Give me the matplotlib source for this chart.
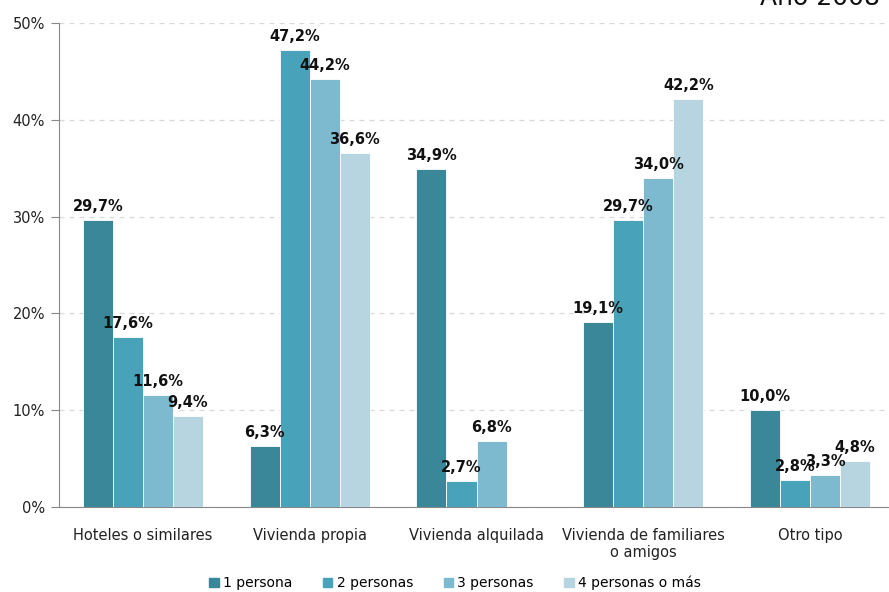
import matplotlib
matplotlib.use("Agg")
import matplotlib.pyplot as plt
import numpy as np

categories = ["Hoteles o similares", "Vivienda propia", "Vivienda alquilada",
              "Vivienda de familiares\no amigos", "Otro tipo"]
series_names = ["1 persona", "2 personas", "3 personas", "4 personas o más"]
s1 = [29.7, 6.3, 34.9, 19.1, 10.0]
s2 = [17.6, 47.2, 2.7, 29.7, 2.8]
s3 = [11.6, 44.2, 6.8, 34.0, 3.3]
s4 = [9.4, 36.6, None, 42.2, 4.8]
series = [s1, s2, s3, s4]
colors = ["#3A8799", "#48A2BA", "#7DB9CF", "#B6D5E1"]
yticks = [0, 10, 20, 30, 40, 50]

plt.rcParams['font.family'] = ['DejaVu Sans']
fig = plt.figure(figsize=(8.89, 5.92), dpi=100)
ax = fig.add_axes([59/889, 1-507/592, 1-59/889, (507-23)/592])

x = np.arange(len(categories))
w = 0.18
handles = []
for i, (vals, col, name) in enumerate(zip(series, colors, series_names)):
    offs = (i - 1.5) * w
    for j, v in enumerate(vals):
        if v is None:
            continue
        ax.bar(x[j] + offs, v, width=w, color=col, edgecolor="white", linewidth=0.6, zorder=3)
        ax.text(x[j] + offs, v + 0.6, f"{v:.1f}%".replace(".", ","), ha="center", va="bottom",
                fontsize=10.5, fontweight="bold", color="#111111", zorder=4)
    handles.append(plt.Rectangle((0, 0), 1, 1, color=col, label=name))

ax.set_xlim(-0.504, 4.474)
ax.set_ylim(0, 50)
ax.set_yticks(yticks)
ax.set_yticklabels([f"{t}%" for t in yticks], fontsize=10.5, color="#222222")
ax.set_xticks(x)
ax.set_xticklabels(categories, fontsize=10.5, color="#222222")
ax.tick_params(axis="x", length=0, pad=15)
ax.tick_params(axis="y", length=6, color="#888888", pad=4)
ax.grid(axis="y", linestyle=(0, (4, 4)), color="#D9D9D9", linewidth=0.9, zorder=0)
for s in ["top", "right"]:
    ax.spines[s].set_visible(False)
ax.spines["left"].set_color("#888888")
ax.spines["bottom"].set_color("#888888")

fig.legend(handles=handles, loc="center", bbox_to_anchor=(455/889, 1-583/592), ncol=4,
           frameon=False, fontsize=10, handlelength=0.7, handleheight=0.7,
           handletextpad=0.3, columnspacing=2.2)

fig.text(880/889, 1-5/592, "Año 2008", ha="right", va="baseline", fontsize=18, color="#111111")

fig.savefig("out.png", dpi=100)
